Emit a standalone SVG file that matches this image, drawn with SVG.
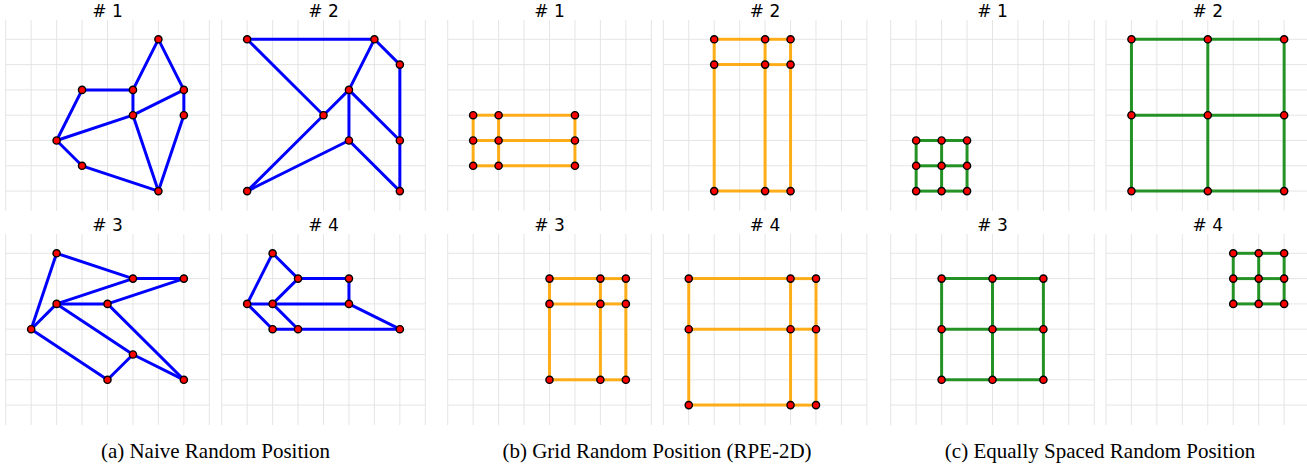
<svg xmlns="http://www.w3.org/2000/svg" xmlns:xlink="http://www.w3.org/1999/xlink" width="1307" height="465" viewBox="0 0 1307 465">
<style>
.grid line{stroke:#e2e2e2;stroke-width:0.9}
.title{font-family:"DejaVu Sans",sans-serif;font-size:17px;text-anchor:middle;fill:#000}
.cap{font-family:"Liberation Serif",serif;font-size:21px;text-anchor:middle;fill:#000}
.eb line{stroke:#0000ff;stroke-width:3;stroke-linecap:round}
.eo line{stroke:#ffa500;stroke-width:3;stroke-opacity:0.9}
.eg line{stroke:#008000;stroke-width:3;stroke-opacity:0.85}
.n{fill:#ff0000;stroke:#000;stroke-width:1.4}
</style>
<defs>
<g id="grid" class="grid">
<line x1="0" y1="-19.3" x2="0" y2="171.7"/><line x1="25.45" y1="-19.3" x2="25.45" y2="171.7"/><line x1="50.9" y1="-19.3" x2="50.9" y2="171.7"/><line x1="76.35" y1="-19.3" x2="76.35" y2="171.7"/><line x1="101.8" y1="-19.3" x2="101.8" y2="171.7"/><line x1="127.25" y1="-19.3" x2="127.25" y2="171.7"/><line x1="152.7" y1="-19.3" x2="152.7" y2="171.7"/><line x1="178.15" y1="-19.3" x2="178.15" y2="171.7"/><line x1="203.6" y1="-19.3" x2="203.6" y2="171.7"/>
<line x1="0" y1="0" x2="203.6" y2="0"/><line x1="0" y1="25.3" x2="203.6" y2="25.3"/><line x1="0" y1="50.6" x2="203.6" y2="50.6"/><line x1="0" y1="75.9" x2="203.6" y2="75.9"/><line x1="0" y1="101.2" x2="203.6" y2="101.2"/><line x1="0" y1="126.5" x2="203.6" y2="126.5"/><line x1="0" y1="151.8" x2="203.6" y2="151.8"/>
</g>
</defs>
<rect width="1307" height="465" fill="#fff"/>

<!-- (a) Naive Random Position -->
<g id="panel-a1" transform="translate(5.7,39.3)">
<use xlink:href="#grid"/>
<text class="title" x="101.8" y="-22.6"># 1</text>
<g id="a1-connectors" class="eb">
<line x1="152.7" y1="0" x2="127.25" y2="50.6"/><line x1="152.7" y1="0" x2="178.15" y2="50.6"/><line x1="76.35" y1="50.6" x2="127.25" y2="50.6"/><line x1="127.25" y1="50.6" x2="127.25" y2="75.9"/><line x1="178.15" y1="50.6" x2="178.15" y2="75.9"/><line x1="127.25" y1="75.9" x2="178.15" y2="50.6"/><line x1="50.9" y1="101.2" x2="76.35" y2="50.6"/><line x1="50.9" y1="101.2" x2="127.25" y2="75.9"/><line x1="50.9" y1="101.2" x2="76.35" y2="126.5"/><line x1="76.35" y1="126.5" x2="152.7" y2="151.8"/><line x1="127.25" y1="75.9" x2="152.7" y2="151.8"/><line x1="178.15" y1="75.9" x2="152.7" y2="151.8"/>
</g>
<g id="a1-n1"><circle class="n" cx="152.7" cy="0" r="3.6"/></g><g id="a1-n2"><circle class="n" cx="76.35" cy="50.6" r="3.6"/></g><g id="a1-n3"><circle class="n" cx="127.25" cy="50.6" r="3.6"/></g><g id="a1-n4"><circle class="n" cx="178.15" cy="50.6" r="3.6"/></g><g id="a1-n5"><circle class="n" cx="127.25" cy="75.9" r="3.6"/></g><g id="a1-n6"><circle class="n" cx="178.15" cy="75.9" r="3.6"/></g><g id="a1-n7"><circle class="n" cx="50.9" cy="101.2" r="3.6"/></g><g id="a1-n8"><circle class="n" cx="76.35" cy="126.5" r="3.6"/></g><g id="a1-n9"><circle class="n" cx="152.7" cy="151.8" r="3.6"/></g>
</g>

<g id="panel-a2" transform="translate(221.7,39.3)">
<use xlink:href="#grid"/>
<text class="title" x="101.8" y="-22.6"># 2</text>
<g id="a2-connectors" class="eb">
<line x1="25.45" y1="0" x2="152.7" y2="0"/><line x1="25.45" y1="0" x2="101.8" y2="75.9"/><line x1="152.7" y1="0" x2="178.15" y2="25.3"/><line x1="152.7" y1="0" x2="127.25" y2="50.6"/><line x1="178.15" y1="25.3" x2="178.15" y2="101.2"/><line x1="127.25" y1="50.6" x2="101.8" y2="75.9"/><line x1="127.25" y1="50.6" x2="127.25" y2="101.2"/><line x1="127.25" y1="50.6" x2="178.15" y2="101.2"/><line x1="178.15" y1="101.2" x2="178.15" y2="151.8"/><line x1="127.25" y1="101.2" x2="178.15" y2="151.8"/><line x1="25.45" y1="151.8" x2="101.8" y2="75.9"/><line x1="25.45" y1="151.8" x2="127.25" y2="101.2"/>
</g>
<g id="a2-n1"><circle class="n" cx="25.45" cy="0" r="3.6"/></g><g id="a2-n2"><circle class="n" cx="152.7" cy="0" r="3.6"/></g><g id="a2-n3"><circle class="n" cx="178.15" cy="25.3" r="3.6"/></g><g id="a2-n4"><circle class="n" cx="127.25" cy="50.6" r="3.6"/></g><g id="a2-n5"><circle class="n" cx="101.8" cy="75.9" r="3.6"/></g><g id="a2-n6"><circle class="n" cx="127.25" cy="101.2" r="3.6"/></g><g id="a2-n7"><circle class="n" cx="178.15" cy="101.2" r="3.6"/></g><g id="a2-n8"><circle class="n" cx="25.45" cy="151.8" r="3.6"/></g><g id="a2-n9"><circle class="n" cx="178.15" cy="151.8" r="3.6"/></g>
</g>

<g id="panel-a3" transform="translate(5.7,253.3)">
<use xlink:href="#grid"/>
<text class="title" x="101.8" y="-22.6"># 3</text>
<g id="a3-connectors" class="eb">
<line x1="50.9" y1="0" x2="127.25" y2="25.3"/><line x1="50.9" y1="0" x2="25.45" y2="75.9"/><line x1="127.25" y1="25.3" x2="178.15" y2="25.3"/><line x1="127.25" y1="25.3" x2="50.9" y2="50.6"/><line x1="178.15" y1="25.3" x2="101.8" y2="50.6"/><line x1="50.9" y1="50.6" x2="101.8" y2="50.6"/><line x1="50.9" y1="50.6" x2="25.45" y2="75.9"/><line x1="50.9" y1="50.6" x2="127.25" y2="101.2"/><line x1="101.8" y1="50.6" x2="178.15" y2="126.5"/><line x1="25.45" y1="75.9" x2="101.8" y2="126.5"/><line x1="101.8" y1="126.5" x2="127.25" y2="101.2"/><line x1="127.25" y1="101.2" x2="178.15" y2="126.5"/>
</g>
<g id="a3-n1"><circle class="n" cx="50.9" cy="0" r="3.6"/></g><g id="a3-n2"><circle class="n" cx="127.25" cy="25.3" r="3.6"/></g><g id="a3-n3"><circle class="n" cx="178.15" cy="25.3" r="3.6"/></g><g id="a3-n4"><circle class="n" cx="50.9" cy="50.6" r="3.6"/></g><g id="a3-n5"><circle class="n" cx="101.8" cy="50.6" r="3.6"/></g><g id="a3-n6"><circle class="n" cx="25.45" cy="75.9" r="3.6"/></g><g id="a3-n7"><circle class="n" cx="127.25" cy="101.2" r="3.6"/></g><g id="a3-n8"><circle class="n" cx="101.8" cy="126.5" r="3.6"/></g><g id="a3-n9"><circle class="n" cx="178.15" cy="126.5" r="3.6"/></g>
</g>

<g id="panel-a4" transform="translate(221.7,253.3)">
<use xlink:href="#grid"/>
<text class="title" x="101.8" y="-22.6"># 4</text>
<g id="a4-connectors" class="eb">
<line x1="50.9" y1="0" x2="25.45" y2="50.6"/><line x1="50.9" y1="0" x2="76.35" y2="25.3"/><line x1="76.35" y1="25.3" x2="127.25" y2="25.3"/><line x1="127.25" y1="25.3" x2="127.25" y2="50.6"/><line x1="76.35" y1="25.3" x2="50.9" y2="50.6"/><line x1="25.45" y1="50.6" x2="50.9" y2="50.6"/><line x1="50.9" y1="50.6" x2="127.25" y2="50.6"/><line x1="25.45" y1="50.6" x2="50.9" y2="75.9"/><line x1="50.9" y1="50.6" x2="76.35" y2="75.9"/><line x1="50.9" y1="75.9" x2="76.35" y2="75.9"/><line x1="76.35" y1="75.9" x2="178.15" y2="75.9"/><line x1="127.25" y1="50.6" x2="178.15" y2="75.9"/>
</g>
<g id="a4-n1"><circle class="n" cx="50.9" cy="0" r="3.6"/></g><g id="a4-n2"><circle class="n" cx="76.35" cy="25.3" r="3.6"/></g><g id="a4-n3"><circle class="n" cx="127.25" cy="25.3" r="3.6"/></g><g id="a4-n4"><circle class="n" cx="25.45" cy="50.6" r="3.6"/></g><g id="a4-n5"><circle class="n" cx="50.9" cy="50.6" r="3.6"/></g><g id="a4-n6"><circle class="n" cx="127.25" cy="50.6" r="3.6"/></g><g id="a4-n7"><circle class="n" cx="50.9" cy="75.9" r="3.6"/></g><g id="a4-n8"><circle class="n" cx="76.35" cy="75.9" r="3.6"/></g><g id="a4-n9"><circle class="n" cx="178.15" cy="75.9" r="3.6"/></g>
</g>

<!-- (b) Grid Random Position -->
<g id="panel-b1" transform="translate(447.7,39.3)">
<use xlink:href="#grid"/>
<text class="title" x="101.8" y="-22.6"># 1</text>
<g id="b1-connectors" class="eo">
<line x1="25.45" y1="75.9" x2="50.9" y2="75.9"/><line x1="50.9" y1="75.9" x2="127.25" y2="75.9"/><line x1="25.45" y1="101.2" x2="50.9" y2="101.2"/><line x1="50.9" y1="101.2" x2="127.25" y2="101.2"/><line x1="25.45" y1="126.5" x2="50.9" y2="126.5"/><line x1="50.9" y1="126.5" x2="127.25" y2="126.5"/>
<line x1="25.45" y1="75.9" x2="25.45" y2="101.2"/><line x1="25.45" y1="101.2" x2="25.45" y2="126.5"/><line x1="50.9" y1="75.9" x2="50.9" y2="101.2"/><line x1="50.9" y1="101.2" x2="50.9" y2="126.5"/><line x1="127.25" y1="75.9" x2="127.25" y2="101.2"/><line x1="127.25" y1="101.2" x2="127.25" y2="126.5"/>
</g>
<g id="b1-n1"><circle class="n" cx="25.45" cy="75.9" r="3.6"/></g><g id="b1-n2"><circle class="n" cx="50.9" cy="75.9" r="3.6"/></g><g id="b1-n3"><circle class="n" cx="127.25" cy="75.9" r="3.6"/></g><g id="b1-n4"><circle class="n" cx="25.45" cy="101.2" r="3.6"/></g><g id="b1-n5"><circle class="n" cx="50.9" cy="101.2" r="3.6"/></g><g id="b1-n6"><circle class="n" cx="127.25" cy="101.2" r="3.6"/></g><g id="b1-n7"><circle class="n" cx="25.45" cy="126.5" r="3.6"/></g><g id="b1-n8"><circle class="n" cx="50.9" cy="126.5" r="3.6"/></g><g id="b1-n9"><circle class="n" cx="127.25" cy="126.5" r="3.6"/></g>
</g>

<g id="panel-b2" transform="translate(663.3,39.3)">
<use xlink:href="#grid"/>
<text class="title" x="101.8" y="-22.6"># 2</text>
<g id="b2-connectors" class="eo">
<line x1="50.9" y1="0" x2="101.8" y2="0"/><line x1="101.8" y1="0" x2="127.25" y2="0"/><line x1="50.9" y1="25.3" x2="101.8" y2="25.3"/><line x1="101.8" y1="25.3" x2="127.25" y2="25.3"/><line x1="50.9" y1="151.8" x2="101.8" y2="151.8"/><line x1="101.8" y1="151.8" x2="127.25" y2="151.8"/>
<line x1="50.9" y1="0" x2="50.9" y2="25.3"/><line x1="50.9" y1="25.3" x2="50.9" y2="151.8"/><line x1="101.8" y1="0" x2="101.8" y2="25.3"/><line x1="101.8" y1="25.3" x2="101.8" y2="151.8"/><line x1="127.25" y1="0" x2="127.25" y2="25.3"/><line x1="127.25" y1="25.3" x2="127.25" y2="151.8"/>
</g>
<g id="b2-n1"><circle class="n" cx="50.9" cy="0" r="3.6"/></g><g id="b2-n2"><circle class="n" cx="101.8" cy="0" r="3.6"/></g><g id="b2-n3"><circle class="n" cx="127.25" cy="0" r="3.6"/></g><g id="b2-n4"><circle class="n" cx="50.9" cy="25.3" r="3.6"/></g><g id="b2-n5"><circle class="n" cx="101.8" cy="25.3" r="3.6"/></g><g id="b2-n6"><circle class="n" cx="127.25" cy="25.3" r="3.6"/></g><g id="b2-n7"><circle class="n" cx="50.9" cy="151.8" r="3.6"/></g><g id="b2-n8"><circle class="n" cx="101.8" cy="151.8" r="3.6"/></g><g id="b2-n9"><circle class="n" cx="127.25" cy="151.8" r="3.6"/></g>
</g>

<g id="panel-b3" transform="translate(447.7,253.3)">
<use xlink:href="#grid"/>
<text class="title" x="101.8" y="-22.6"># 3</text>
<g id="b3-connectors" class="eo">
<line x1="101.8" y1="25.3" x2="152.7" y2="25.3"/><line x1="152.7" y1="25.3" x2="178.15" y2="25.3"/><line x1="101.8" y1="50.6" x2="152.7" y2="50.6"/><line x1="152.7" y1="50.6" x2="178.15" y2="50.6"/><line x1="101.8" y1="126.5" x2="152.7" y2="126.5"/><line x1="152.7" y1="126.5" x2="178.15" y2="126.5"/>
<line x1="101.8" y1="25.3" x2="101.8" y2="50.6"/><line x1="101.8" y1="50.6" x2="101.8" y2="126.5"/><line x1="152.7" y1="25.3" x2="152.7" y2="50.6"/><line x1="152.7" y1="50.6" x2="152.7" y2="126.5"/><line x1="178.15" y1="25.3" x2="178.15" y2="50.6"/><line x1="178.15" y1="50.6" x2="178.15" y2="126.5"/>
</g>
<g id="b3-n1"><circle class="n" cx="101.8" cy="25.3" r="3.6"/></g><g id="b3-n2"><circle class="n" cx="152.7" cy="25.3" r="3.6"/></g><g id="b3-n3"><circle class="n" cx="178.15" cy="25.3" r="3.6"/></g><g id="b3-n4"><circle class="n" cx="101.8" cy="50.6" r="3.6"/></g><g id="b3-n5"><circle class="n" cx="152.7" cy="50.6" r="3.6"/></g><g id="b3-n6"><circle class="n" cx="178.15" cy="50.6" r="3.6"/></g><g id="b3-n7"><circle class="n" cx="101.8" cy="126.5" r="3.6"/></g><g id="b3-n8"><circle class="n" cx="152.7" cy="126.5" r="3.6"/></g><g id="b3-n9"><circle class="n" cx="178.15" cy="126.5" r="3.6"/></g>
</g>

<g id="panel-b4" transform="translate(663.3,253.3)">
<use xlink:href="#grid"/>
<text class="title" x="101.8" y="-22.6"># 4</text>
<g id="b4-connectors" class="eo">
<line x1="25.45" y1="25.3" x2="127.25" y2="25.3"/><line x1="127.25" y1="25.3" x2="152.7" y2="25.3"/><line x1="25.45" y1="75.9" x2="127.25" y2="75.9"/><line x1="127.25" y1="75.9" x2="152.7" y2="75.9"/><line x1="25.45" y1="151.8" x2="127.25" y2="151.8"/><line x1="127.25" y1="151.8" x2="152.7" y2="151.8"/>
<line x1="25.45" y1="25.3" x2="25.45" y2="75.9"/><line x1="25.45" y1="75.9" x2="25.45" y2="151.8"/><line x1="127.25" y1="25.3" x2="127.25" y2="75.9"/><line x1="127.25" y1="75.9" x2="127.25" y2="151.8"/><line x1="152.7" y1="25.3" x2="152.7" y2="75.9"/><line x1="152.7" y1="75.9" x2="152.7" y2="151.8"/>
</g>
<g id="b4-n1"><circle class="n" cx="25.45" cy="25.3" r="3.6"/></g><g id="b4-n2"><circle class="n" cx="127.25" cy="25.3" r="3.6"/></g><g id="b4-n3"><circle class="n" cx="152.7" cy="25.3" r="3.6"/></g><g id="b4-n4"><circle class="n" cx="25.45" cy="75.9" r="3.6"/></g><g id="b4-n5"><circle class="n" cx="127.25" cy="75.9" r="3.6"/></g><g id="b4-n6"><circle class="n" cx="152.7" cy="75.9" r="3.6"/></g><g id="b4-n7"><circle class="n" cx="25.45" cy="151.8" r="3.6"/></g><g id="b4-n8"><circle class="n" cx="127.25" cy="151.8" r="3.6"/></g><g id="b4-n9"><circle class="n" cx="152.7" cy="151.8" r="3.6"/></g>
</g>

<!-- (c) Equally Spaced Random Position -->
<g id="panel-c1" transform="translate(890.7,39.3)">
<use xlink:href="#grid"/>
<text class="title" x="101.8" y="-22.6"># 1</text>
<g id="c1-connectors" class="eg">
<line x1="25.45" y1="101.2" x2="50.9" y2="101.2"/><line x1="50.9" y1="101.2" x2="76.35" y2="101.2"/><line x1="25.45" y1="126.5" x2="50.9" y2="126.5"/><line x1="50.9" y1="126.5" x2="76.35" y2="126.5"/><line x1="25.45" y1="151.8" x2="50.9" y2="151.8"/><line x1="50.9" y1="151.8" x2="76.35" y2="151.8"/>
<line x1="25.45" y1="101.2" x2="25.45" y2="126.5"/><line x1="25.45" y1="126.5" x2="25.45" y2="151.8"/><line x1="50.9" y1="101.2" x2="50.9" y2="126.5"/><line x1="50.9" y1="126.5" x2="50.9" y2="151.8"/><line x1="76.35" y1="101.2" x2="76.35" y2="126.5"/><line x1="76.35" y1="126.5" x2="76.35" y2="151.8"/>
</g>
<g id="c1-n1"><circle class="n" cx="25.45" cy="101.2" r="3.6"/></g><g id="c1-n2"><circle class="n" cx="50.9" cy="101.2" r="3.6"/></g><g id="c1-n3"><circle class="n" cx="76.35" cy="101.2" r="3.6"/></g><g id="c1-n4"><circle class="n" cx="25.45" cy="126.5" r="3.6"/></g><g id="c1-n5"><circle class="n" cx="50.9" cy="126.5" r="3.6"/></g><g id="c1-n6"><circle class="n" cx="76.35" cy="126.5" r="3.6"/></g><g id="c1-n7"><circle class="n" cx="25.45" cy="151.8" r="3.6"/></g><g id="c1-n8"><circle class="n" cx="50.9" cy="151.8" r="3.6"/></g><g id="c1-n9"><circle class="n" cx="76.35" cy="151.8" r="3.6"/></g>
</g>

<g id="panel-c2" transform="translate(1106,39.3)">
<use xlink:href="#grid"/>
<text class="title" x="101.8" y="-22.6"># 2</text>
<g id="c2-connectors" class="eg">
<line x1="25.45" y1="0" x2="101.8" y2="0"/><line x1="101.8" y1="0" x2="178.15" y2="0"/><line x1="25.45" y1="75.9" x2="101.8" y2="75.9"/><line x1="101.8" y1="75.9" x2="178.15" y2="75.9"/><line x1="25.45" y1="151.8" x2="101.8" y2="151.8"/><line x1="101.8" y1="151.8" x2="178.15" y2="151.8"/>
<line x1="25.45" y1="0" x2="25.45" y2="75.9"/><line x1="25.45" y1="75.9" x2="25.45" y2="151.8"/><line x1="101.8" y1="0" x2="101.8" y2="75.9"/><line x1="101.8" y1="75.9" x2="101.8" y2="151.8"/><line x1="178.15" y1="0" x2="178.15" y2="75.9"/><line x1="178.15" y1="75.9" x2="178.15" y2="151.8"/>
</g>
<g id="c2-n1"><circle class="n" cx="25.45" cy="0" r="3.6"/></g><g id="c2-n2"><circle class="n" cx="101.8" cy="0" r="3.6"/></g><g id="c2-n3"><circle class="n" cx="178.15" cy="0" r="3.6"/></g><g id="c2-n4"><circle class="n" cx="25.45" cy="75.9" r="3.6"/></g><g id="c2-n5"><circle class="n" cx="101.8" cy="75.9" r="3.6"/></g><g id="c2-n6"><circle class="n" cx="178.15" cy="75.9" r="3.6"/></g><g id="c2-n7"><circle class="n" cx="25.45" cy="151.8" r="3.6"/></g><g id="c2-n8"><circle class="n" cx="101.8" cy="151.8" r="3.6"/></g><g id="c2-n9"><circle class="n" cx="178.15" cy="151.8" r="3.6"/></g>
</g>

<g id="panel-c3" transform="translate(890.7,253.3)">
<use xlink:href="#grid"/>
<text class="title" x="101.8" y="-22.6"># 3</text>
<g id="c3-connectors" class="eg">
<line x1="50.9" y1="25.3" x2="101.8" y2="25.3"/><line x1="101.8" y1="25.3" x2="152.7" y2="25.3"/><line x1="50.9" y1="75.9" x2="101.8" y2="75.9"/><line x1="101.8" y1="75.9" x2="152.7" y2="75.9"/><line x1="50.9" y1="126.5" x2="101.8" y2="126.5"/><line x1="101.8" y1="126.5" x2="152.7" y2="126.5"/>
<line x1="50.9" y1="25.3" x2="50.9" y2="75.9"/><line x1="50.9" y1="75.9" x2="50.9" y2="126.5"/><line x1="101.8" y1="25.3" x2="101.8" y2="75.9"/><line x1="101.8" y1="75.9" x2="101.8" y2="126.5"/><line x1="152.7" y1="25.3" x2="152.7" y2="75.9"/><line x1="152.7" y1="75.9" x2="152.7" y2="126.5"/>
</g>
<g id="c3-n1"><circle class="n" cx="50.9" cy="25.3" r="3.6"/></g><g id="c3-n2"><circle class="n" cx="101.8" cy="25.3" r="3.6"/></g><g id="c3-n3"><circle class="n" cx="152.7" cy="25.3" r="3.6"/></g><g id="c3-n4"><circle class="n" cx="50.9" cy="75.9" r="3.6"/></g><g id="c3-n5"><circle class="n" cx="101.8" cy="75.9" r="3.6"/></g><g id="c3-n6"><circle class="n" cx="152.7" cy="75.9" r="3.6"/></g><g id="c3-n7"><circle class="n" cx="50.9" cy="126.5" r="3.6"/></g><g id="c3-n8"><circle class="n" cx="101.8" cy="126.5" r="3.6"/></g><g id="c3-n9"><circle class="n" cx="152.7" cy="126.5" r="3.6"/></g>
</g>

<g id="panel-c4" transform="translate(1106,253.3)">
<use xlink:href="#grid"/>
<text class="title" x="101.8" y="-22.6"># 4</text>
<g id="c4-connectors" class="eg">
<line x1="127.25" y1="0" x2="152.7" y2="0"/><line x1="152.7" y1="0" x2="178.15" y2="0"/><line x1="127.25" y1="25.3" x2="152.7" y2="25.3"/><line x1="152.7" y1="25.3" x2="178.15" y2="25.3"/><line x1="127.25" y1="50.6" x2="152.7" y2="50.6"/><line x1="152.7" y1="50.6" x2="178.15" y2="50.6"/>
<line x1="127.25" y1="0" x2="127.25" y2="25.3"/><line x1="127.25" y1="25.3" x2="127.25" y2="50.6"/><line x1="152.7" y1="0" x2="152.7" y2="25.3"/><line x1="152.7" y1="25.3" x2="152.7" y2="50.6"/><line x1="178.15" y1="0" x2="178.15" y2="25.3"/><line x1="178.15" y1="25.3" x2="178.15" y2="50.6"/>
</g>
<g id="c4-n1"><circle class="n" cx="127.25" cy="0" r="3.6"/></g><g id="c4-n2"><circle class="n" cx="152.7" cy="0" r="3.6"/></g><g id="c4-n3"><circle class="n" cx="178.15" cy="0" r="3.6"/></g><g id="c4-n4"><circle class="n" cx="127.25" cy="25.3" r="3.6"/></g><g id="c4-n5"><circle class="n" cx="152.7" cy="25.3" r="3.6"/></g><g id="c4-n6"><circle class="n" cx="178.15" cy="25.3" r="3.6"/></g><g id="c4-n7"><circle class="n" cx="127.25" cy="50.6" r="3.6"/></g><g id="c4-n8"><circle class="n" cx="152.7" cy="50.6" r="3.6"/></g><g id="c4-n9"><circle class="n" cx="178.15" cy="50.6" r="3.6"/></g>
</g>

<g id="captions">
<text class="cap" x="215.5" y="458">(a) Naive Random Position</text>
<text class="cap" x="657" y="458">(b) Grid Random Position (RPE-2D)</text>
<text class="cap" x="1100" y="458">(c) Equally Spaced Random Position</text>
</g>
</svg>
